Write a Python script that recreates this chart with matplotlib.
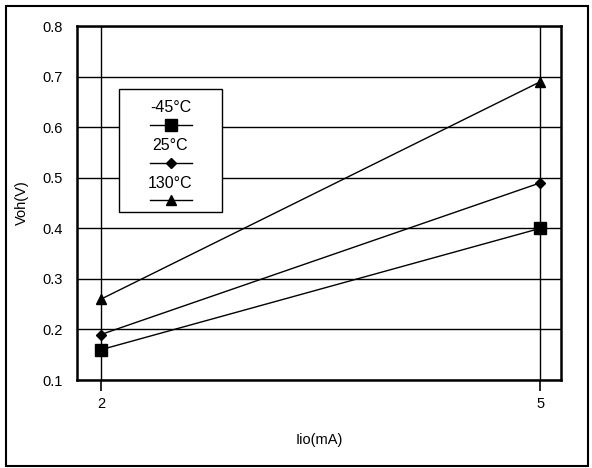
import matplotlib
matplotlib.use("Agg")
import matplotlib.pyplot as plt
from matplotlib.lines import Line2D
from matplotlib.patches import Rectangle

plt.rcParams['font.family'] = ['Liberation Sans', 'DejaVu Sans']

# data
current_ma = [2, 5]
series_labels = ['-45°C', '25°C', '130°C']
voh_m45 = [0.16, 0.40]
voh_25 = [0.19, 0.49]
voh_130 = [0.26, 0.69]
y_ticks = [0.1, 0.2, 0.3, 0.4, 0.5, 0.6, 0.7, 0.8]

markers = ['s', 'D', '^']
msizes = [8.5, 5, 7]
fs = 10.5

fig = plt.figure(figsize=(5.92, 4.68), dpi=100)
ax = fig.add_axes([0.130, 0.188, 0.818, 0.756])

for vals, m, ms in zip([voh_m45, voh_25, voh_130], markers, msizes):
    ax.plot(current_ma, vals, color='black', lw=1.0, marker=m, ms=ms,
            markerfacecolor='black', markeredgecolor='black', zorder=3)

ax.set_xlim(1.836, 5.144)
ax.set_ylim(0.1, 0.8)
ax.set_xticks(current_ma)
ax.set_yticks(y_ticks)
ax.set_yticklabels([f"{v:.1f}" for v in y_ticks])
ax.grid(True, color='black', lw=1.0)
ax.tick_params(axis='x', direction='out', length=8, width=1.2, labelsize=fs, pad=4)
ax.tick_params(axis='y', length=0, labelsize=fs, pad=10)
for s in ax.spines.values():
    s.set_linewidth(1.8)
ax.set_xlabel('Iio(mA)', fontsize=fs, labelpad=16)
ax.set_ylabel('Voh(V)', fontsize=fs, labelpad=10)

# legend drawn as a box with labels above the marker lines
box = Rectangle((0.087, 0.475), 0.213, 0.347, transform=ax.transAxes,
                facecolor='white', edgecolor='black', lw=1.0, zorder=5)
ax.add_patch(box)
text_y = [0.771, 0.664, 0.556]
line_y = [0.720, 0.613, 0.508]
for lab, m, ms, ty, ly in zip(series_labels, markers, msizes, text_y, line_y):
    ax.text(0.193, ty, lab, transform=ax.transAxes, ha='center', va='center',
            fontsize=11.5, zorder=6)
    ax.add_line(Line2D([0.151, 0.238], [ly, ly], transform=ax.transAxes,
                       color='black', lw=1.0, zorder=6))
    ax.add_line(Line2D([0.1945], [ly], transform=ax.transAxes, marker=m,
                       ms=ms, color='black', zorder=7))

# outer frame around the whole figure
fig.patches.append(Rectangle((0.010, 0.004), 0.984, 0.983, transform=fig.transFigure,
                             fill=False, edgecolor='black', lw=1.5))

fig.savefig('out.png', dpi=100)
